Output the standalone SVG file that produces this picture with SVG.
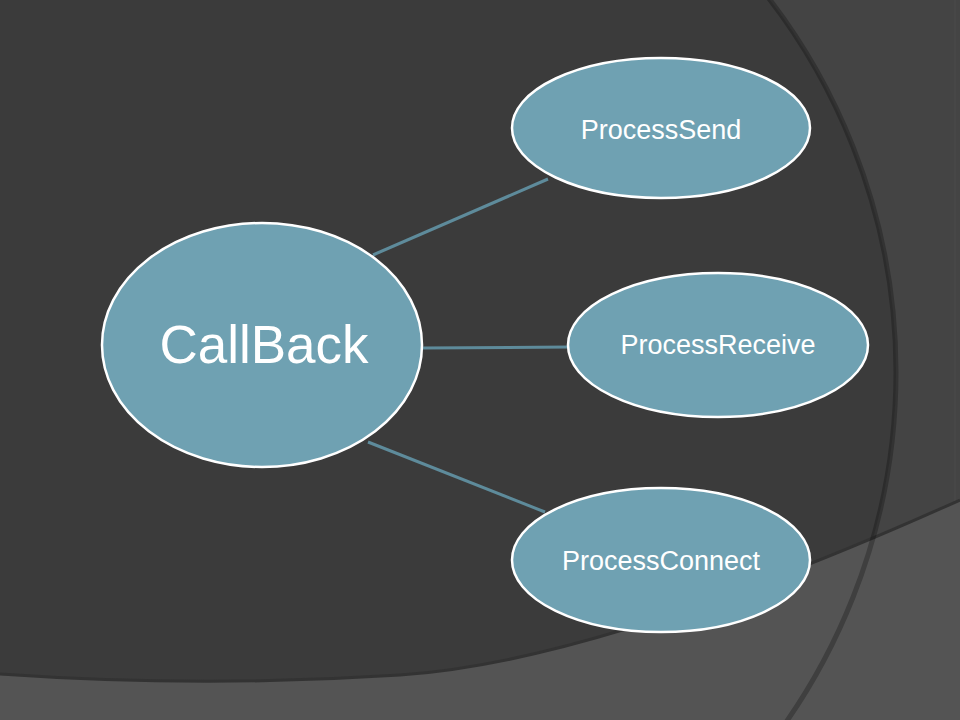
<svg xmlns="http://www.w3.org/2000/svg" width="960" height="720" viewBox="0 0 960 720">
  <style>
    .node { fill: #6fa1b2; stroke: #ffffff; stroke-width: 2.5; }
    .label { fill: #ffffff; font-family: "Liberation Sans", Arial, sans-serif; text-anchor: middle; }
    .conn { stroke: #5e8b9b; stroke-width: 3; fill: none; }
  </style>
  <g id="background">
    <rect x="0" y="0" width="960" height="720" fill="#444444"/>
    <line x1="955" y1="0" x2="955" y2="720" stroke="#4a4a4a" stroke-width="1"/>
    <circle cx="284" cy="372" r="612" fill="#3b3b3b"/>
    <path d="M0,674 Q200,688 400,675 Q600,662 960,500 L960,720 L0,720 Z" fill="#545454"/>
    <path d="M0,674 Q200,688 400,675 Q600,662 960,500" fill="none" stroke="#333333" stroke-width="3"/>
    <circle cx="284" cy="372" r="612" fill="none" stroke="#000000" stroke-opacity="0.25" stroke-width="5"/>
  </g>
  <g id="connectors">
    <line class="conn" x1="373" y1="255" x2="548" y2="179"/>
    <line class="conn" x1="423" y1="348" x2="569" y2="347"/>
    <line class="conn" x1="368" y1="442" x2="545" y2="512"/>
  </g>
  <g id="node-callback">
    <ellipse class="node" cx="262" cy="345" rx="160" ry="122"/>
    <text class="label" x="264" y="363" font-size="53">CallBack</text>
  </g>
  <g id="node-processsend">
    <ellipse class="node" cx="661" cy="128" rx="149" ry="70"/>
    <text class="label" x="661" y="139" font-size="27">ProcessSend</text>
  </g>
  <g id="node-processreceive">
    <ellipse class="node" cx="718" cy="345" rx="150" ry="72"/>
    <text class="label" x="718" y="354" font-size="27">ProcessReceive</text>
  </g>
  <g id="node-processconnect">
    <ellipse class="node" cx="661" cy="560" rx="149" ry="72"/>
    <text class="label" x="661" y="570" font-size="27">ProcessConnect</text>
  </g>
</svg>
